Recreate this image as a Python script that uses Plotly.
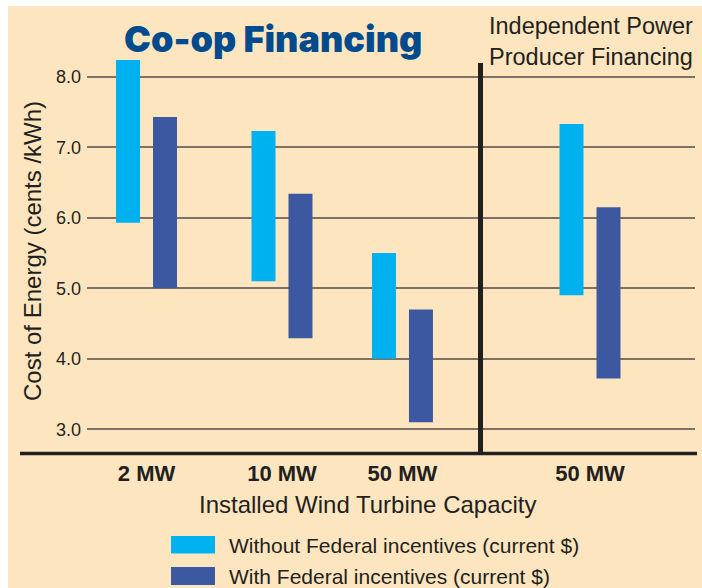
import plotly.graph_objects as go

# ---- data ----
groups = ["2 MW", "10 MW", "50 MW", "50 MW"]
without_low = [5.93, 5.10, 4.00, 4.90]
without_high = [8.24, 7.23, 5.50, 7.33]
with_low = [5.00, 4.29, 3.10, 3.72]
with_high = [7.43, 6.34, 4.70, 6.15]
y_ticks = [3, 4, 5, 6, 7, 8]
series_names = ["Without Federal incentives (current $)", "With Federal incentives (current $)"]

# ---- layout helpers ----
group_pos = [0, 1, 1.889, 3.273]
divider_x = 2.465
W, H = 702, 588
L, R, T, B = 87, 695, 60, 454


def px(x):
    return (x - L) / (R - L)


def py(y):
    return (B - y) / (B - T)


C_LIGHT = "#00B1EF"
C_DARK = "#3C58A1"
BG = "#FDE6BF"
TXT = "#231F20"
FONT = "Liberation Sans, Arial, sans-serif"

fig = go.Figure()
fig.add_trace(go.Bar(
    x=group_pos, base=without_low,
    y=[h - l for h, l in zip(without_high, without_low)],
    width=0.177, offset=-0.225, marker=dict(color=C_LIGHT, line=dict(width=0)),
    name=series_names[0], showlegend=False, hoverinfo="skip"))
fig.add_trace(go.Bar(
    x=group_pos, base=with_low,
    y=[h - l for h, l in zip(with_high, with_low)],
    width=0.177, offset=0.048, marker=dict(color=C_DARK, line=dict(width=0)),
    name=series_names[1], showlegend=False, hoverinfo="skip"))

shapes = [
    # beige panel
    dict(type="rect", xref="paper", yref="paper", x0=px(8), x1=px(W + 5), y0=py(H + 5), y1=py(6),
         fillcolor=BG, line=dict(width=0), layer="below"),
    # 3.0 gridline darker
    dict(type="line", xref="paper", yref="y", x0=0, x1=1, y0=3, y1=3,
         line=dict(color=TXT, width=1.5), layer="below"),
    # bottom axis line
    dict(type="line", xref="paper", yref="paper", x0=px(20), x1=px(697), y0=py(453.5), y1=py(453.5),
         line=dict(color=TXT, width=3.5)),
    # divider
    dict(type="line", xref="x", yref="paper", x0=divider_x, x1=divider_x, y0=py(453.5), y1=py(63),
         line=dict(color=TXT, width=5)),
    # legend swatches
    dict(type="rect", xref="paper", yref="paper", x0=px(171), x1=px(215), y0=py(553.5), y1=py(536),
         fillcolor=C_LIGHT, line=dict(width=0)),
    dict(type="rect", xref="paper", yref="paper", x0=px(171), x1=px(215), y0=py(585), y1=py(567),
         fillcolor=C_DARK, line=dict(width=0)),
]

annotations = [
    dict(text="Co-op Financing", x=px(273), y=py(39), xref="paper", yref="paper",
         xanchor="center", yanchor="middle", showarrow=False,
         font=dict(family="Inter, Roboto, Liberation Sans, sans-serif", size=36, color="#004B8D", weight=900)),
    dict(text="Independent Power<br>Producer Financing", x=px(591), y=py(42), xref="paper", yref="paper",
         xanchor="center", yanchor="middle", showarrow=False, align="center",
         font=dict(family=FONT, size=23.5, color=TXT)),
    dict(text="Installed Wind Turbine Capacity", x=px(368), y=py(504), xref="paper", yref="paper",
         xanchor="center", yanchor="middle", showarrow=False,
         font=dict(family=FONT, size=24, color=TXT)),
    dict(text="Cost of Energy (cents /kWh)", x=px(33), y=py(251), xref="paper", yref="paper",
         xanchor="center", yanchor="middle", showarrow=False, textangle=-90,
         font=dict(family=FONT, size=24, color=TXT)),
    dict(text=series_names[0], x=px(227), y=py(545), xref="paper", yref="paper",
         xanchor="left", yanchor="middle", showarrow=False,
         font=dict(family=FONT, size=21, color=TXT)),
    dict(text=series_names[1], x=px(227), y=py(576), xref="paper", yref="paper",
         xanchor="left", yanchor="middle", showarrow=False,
         font=dict(family=FONT, size=21, color=TXT)),
]

fig.update_layout(
    width=W, height=H,
    margin=dict(l=L, r=W - R, t=T, b=H - B, pad=0),
    paper_bgcolor="white", plot_bgcolor=BG,
    barmode="overlay",
    shapes=shapes, annotations=annotations,
    xaxis=dict(range=[(L - 146.5) / 135.5, (R - 146.5) / 135.5], tickvals=group_pos, ticktext=groups,
               showgrid=False, zeroline=False, showline=False, ticks="",
               tickfont=dict(family=FONT, size=22, color=TXT, weight="bold"), ticklabelstandoff=4),
    yaxis=dict(range=[2.650, 8.237], tickvals=y_ticks, ticktext=[f"{v:.1f}" for v in y_ticks],
               showgrid=True, gridcolor="#7D7263", gridwidth=1.5, zeroline=False, showline=False,
               ticks="", tickfont=dict(family=FONT, size=18, color=TXT), ticklabelstandoff=5),
    font=dict(family=FONT, color=TXT),
)

fig.write_html("out.html", config={"displayModeBar": False},
               post_script="document.body.style.margin='0';document.body.style.overflow='hidden';")
